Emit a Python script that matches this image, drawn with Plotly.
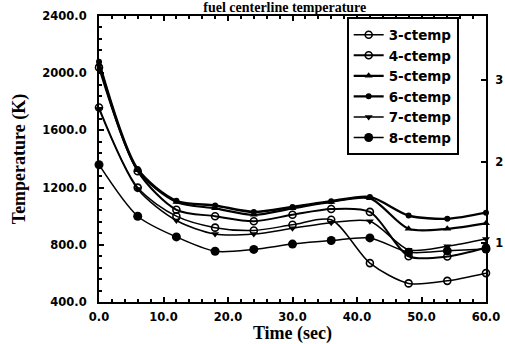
import plotly.graph_objects as go

time_s = [0, 6, 12, 18, 24, 30, 36, 42, 48, 54, 60]
ctemp3 = [1760, 1200, 1000, 920, 900, 940, 975, 672, 530, 548, 602]
ctemp4 = [2040, 1315, 1045, 1000, 965, 1010, 1050, 1030, 720, 718, 780]
ctemp5 = [2065, 1322, 1100, 1055, 1010, 1055, 1100, 1125, 912, 912, 950]
ctemp6 = [2080, 1330, 1108, 1075, 1030, 1065, 1105, 1135, 1005, 982, 1025]
ctemp7 = [1750, 1190, 970, 875, 875, 915, 955, 965, 765, 790, 840]
ctemp8 = [1360, 1000, 855, 755, 768, 805, 830, 848, 748, 758, 770]

y_ticks = [400, 800, 1200, 1600, 2000, 2400]
x_ticks = [0, 10, 20, 30, 40, 50, 60]
right_ticks = [1, 2, 3]

series = [
    ("3-ctemp", ctemp3, dict(symbol="circle-open", size=7, line=dict(width=1.6))),
    ("4-ctemp", ctemp4, dict(symbol="circle-open", size=7, line=dict(width=1.6))),
    ("5-ctemp", ctemp5, dict(symbol="triangle-up", size=7)),
    ("6-ctemp", ctemp6, dict(symbol="circle", size=6)),
    ("7-ctemp", ctemp7, dict(symbol="triangle-down", size=7)),
    ("8-ctemp", ctemp8, dict(symbol="circle", size=9)),
]
widths = [1.5, 2.0, 2.2, 2.4, 1.5, 1.5]

fig = go.Figure()
for (name, vals, mk), w in zip(series, widths):
    fig.add_trace(go.Scatter(
        x=time_s, y=vals, name=name, mode="lines+markers",
        line=dict(color="black", width=w, shape="spline", smoothing=0.8),
        marker=dict(color="black", **mk),
        cliponaxis=False,
    ))

# empty trace so that the right-hand axis is drawn
fig.add_trace(go.Scatter(x=[], y=[], yaxis="y2", showlegend=False, hoverinfo="skip"))

tickfont = dict(family="DejaVu Sans", size=11.5, color="black", weight="bold")
titlefont = dict(family="Liberation Serif", size=18, color="black", weight="bold")

fig.update_layout(
    width=505, height=344,
    margin=dict(l=99, r=19, t=16, b=42),
    paper_bgcolor="white", plot_bgcolor="white",
    title=dict(text="fuel centerline temperature", x=0.48, xref="paper",
               y=1 - 2 / 344, yref="container", yanchor="top", xanchor="center",
               pad=dict(t=0, b=0),
               font=dict(family="Liberation Serif", size=14, color="black", weight="bold")),
    xaxis=dict(range=[0, 60], tickvals=x_ticks, ticktext=[f"{v:.1f}" for v in x_ticks],
               ticks="inside", ticklen=5, tickwidth=1.5, tickcolor="black",
               minor=dict(dtick=2, ticks="inside", ticklen=3, tickcolor="black"),
               showline=True, linecolor="black", linewidth=2, mirror="ticks",
               showgrid=False, zeroline=False, tickfont=tickfont, automargin=False,
               ticklabelstandoff=3,
               title=dict(text="Time (sec)", font=titlefont, standoff=4)),
    yaxis=dict(range=[400, 2400], tickvals=y_ticks, ticktext=[f"{v:.1f}" for v in y_ticks],
               ticks="inside", ticklen=5, tickwidth=1.5, tickcolor="black",
               minor=dict(dtick=80, ticks="inside", ticklen=3, tickcolor="black"),
               showline=True, linecolor="black", linewidth=2, mirror=False,
               showgrid=False, zeroline=False, tickfont=tickfont, automargin=False,
               ticklabelstandoff=8,
               title=dict(text="Temperature (K)", font=titlefont, standoff=12)),
    yaxis2=dict(range=[0.28, 3.79], overlaying="y", side="right",
                tickvals=right_ticks, ticktext=[str(v) for v in right_ticks],
                ticks="inside", ticklen=5, tickwidth=1.5, tickcolor="black",
                showline=True, linecolor="black", linewidth=2,
                showgrid=False, zeroline=False, tickfont=tickfont, automargin=False,
                ticklabelstandoff=5),
    legend=dict(x=0.64, y=0.995, xanchor="left", yanchor="top",
                bgcolor="white", bordercolor="black", borderwidth=2,
                font=dict(family="DejaVu Sans", size=13.5, color="black", weight="bold"),
                tracegroupgap=0, itemwidth=30),
    showlegend=True,
)

fig.write_html("out.html")
